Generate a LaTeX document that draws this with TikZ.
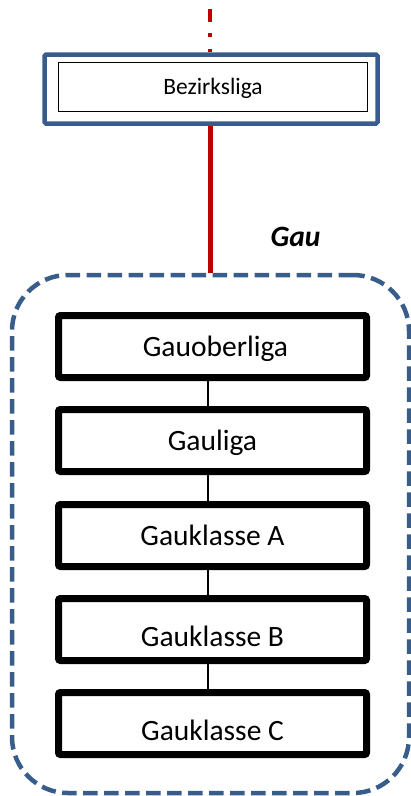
\documentclass[tikz,border=0pt]{standalone}
\usepackage{fontspec}
\setmainfont{Carlito}
\definecolor{frameblue}{HTML}{385D8A}
\definecolor{linkred}{HTML}{C00000}
\tikzset{
  levelbox/.style={draw=black, line width=7pt, rounded corners=2pt, minimum width=308pt, minimum height=62pt, inner sep=0pt,
    font=\fontsize{29.5}{31}\selectfont, text height=19pt, text depth=0pt},
  link/.style={draw=black, line width=2.5pt},
}
\begin{document}
\begin{tikzpicture}[x=1pt,y=-1pt]
\useasboundingbox (0,0) rectangle (411,796);
% Bezirksliga
\node[draw=frameblue, line width=4.5pt, rounded corners=1.5pt, minimum width=333pt, minimum height=69pt, inner sep=0pt] (bezouter) at (211,89) {};
\node[draw=black, line width=1pt, minimum width=309pt, minimum height=49pt, inner sep=0pt,
  font=\fontsize{23.5}{25}\selectfont, text height=15.1pt, text depth=0pt] (bezinner) at (213,87) {Bezirksliga};
% Gau frame
\node[draw=frameblue, line width=4.5pt, dash pattern=on 14.5pt off 6.5pt, rounded corners=56pt, minimum width=397pt, minimum height=518pt, inner sep=0pt] (gau) at (210.5,534) {};
\node[font=\fontsize{29.5}{31}\selectfont\bfseries\itshape, text height=19pt, text depth=0pt, inner sep=0pt] (gaulabel) at (295.5,236.5) {Gau};
% red links
\coordinate (topend) at (210.3,9.3);
\draw[linkred, line width=4pt, dash pattern=on 12.4pt off 11.5pt on 4pt off 11.7pt] (topend) -- (topend |- bezouter.north);
\draw[linkred, line width=5.5pt] (gau.north |- bezouter.south) -- (gau.north);
% levels
\node[levelbox] (b1) at (212.5,346.5) {\hspace{6pt}Gauoberliga};
\node[levelbox] (b2) at (212.5,440.5) {Gauliga\hspace{14pt}};
\node[levelbox] (b3) at (212.5,535.5) {Gauklasse A\hspace{14pt}};
\node[levelbox] (b4) at (212.5,629.5) {\raisebox{-7.5pt}{Gauklasse B}\hspace{2.6pt}};
\node[levelbox] (b5) at (212.5,723.5) {\raisebox{-7pt}{Gauklasse C}\hspace{2.6pt}};
\draw[link] ([xshift=-4.5pt]b1.south) -- ([xshift=-4.5pt]b2.north);
\draw[link] ([xshift=-4.5pt]b2.south) -- ([xshift=-4.5pt]b3.north);
\draw[link] ([xshift=-4.5pt]b3.south) -- ([xshift=-4.5pt]b4.north);
\draw[link] ([xshift=-4.5pt]b4.south) -- ([xshift=-4.5pt]b5.north);
\end{tikzpicture}
\end{document}
